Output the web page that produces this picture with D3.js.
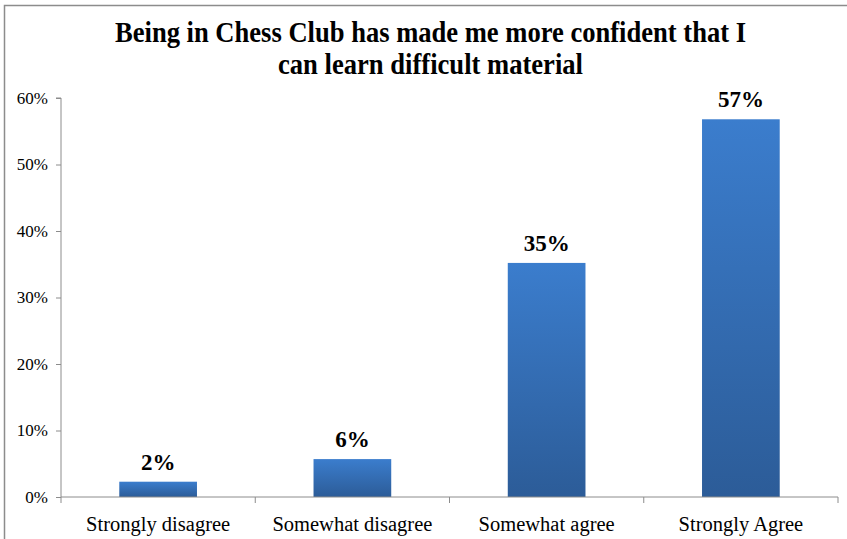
<!DOCTYPE html>
<html><head><meta charset="utf-8">
<script src="https://cdn.jsdelivr.net/npm/d3@7"></script>
<style>body{margin:0;background:#fff}svg{display:block}</style>
</head><body>
<script>
const categories = ["Strongly disagree","Somewhat disagree","Somewhat agree","Strongly Agree"];
const values = [2.3, 5.7, 35.2, 56.8];
const valueLabels = ["2%","6%","35%","57%"];
const yTicks = [0,10,20,30,40,50,60];
const titleLines = ["Being in Chess Club has made me more confident that I","can learn difficult material"];
const titleWidths = [631, 305];

const W=847,H=539;
const svg=d3.select("body").append("svg").attr("width",W).attr("height",H);
const font="'Liberation Serif','Times New Roman',serif";

// outer border (top and left visible)
svg.append("rect").attr("x",4.5).attr("y",5.5).attr("width",W+10).attr("height",H+10)
  .attr("fill","none").attr("stroke","#8c8c8c").attr("stroke-width",1.5);

const x0=61,x1=838,y0=497,y1=98;
const x=d3.scaleBand().domain(categories).range([x0,x1]).paddingInner(0.6).paddingOuter(0.3);
const y=d3.scaleLinear().domain([0,60]).range([y0,y1]);

const defs=svg.append("defs");
const g=defs.append("linearGradient").attr("id","bg").attr("x1",0).attr("y1",0).attr("x2",0).attr("y2",1);
g.append("stop").attr("offset","0%").attr("stop-color","#3b7dcd");
g.append("stop").attr("offset","100%").attr("stop-color","#2c5c98");

// bars
svg.selectAll("rect.bar").data(values).join("rect").attr("class","bar")
  .attr("x",(d,i)=>x(categories[i])).attr("width",x.bandwidth())
  .attr("y",d=>y(d)).attr("height",d=>y0-y(d)).attr("fill","url(#bg)");

// y axis
const ya=svg.append("g").attr("transform",`translate(${x0},0)`)
  .call(d3.axisLeft(y).tickValues(yTicks).tickSize(5).tickFormat(d=>d+"%"));
ya.attr("font-family",null);
ya.select(".domain").attr("stroke","#8c8c8c").attr("d",`M-5,${y1}H0V${y0}`);
ya.selectAll(".tick line").attr("stroke","#8c8c8c");
ya.selectAll(".tick text").style("font-family",font).style("font-size","17px").attr("fill","#000").attr("x",-13);

// x axis
const xl=d3.scaleLinear().domain([0,4]).range([x0,x1]);
const xa=svg.append("g").attr("transform",`translate(0,${y0})`)
  .call(d3.axisBottom(x).tickSize(0).tickPadding(19));
xa.attr("font-family",null);
xa.select(".domain").attr("stroke","#8c8c8c").attr("d",`M${x0},0H${x1}`);
xa.selectAll(".tick text").style("font-family",font).style("font-size","20.5px").attr("fill","#000");
svg.append("g").selectAll("line").data(d3.range(5)).join("line")
  .attr("x1",d=>xl(d)).attr("x2",d=>xl(d)).attr("y1",y0).attr("y2",y0+6)
  .attr("stroke","#8c8c8c");

// value labels
svg.selectAll("text.vl").data(values).join("text").attr("class","vl")
  .attr("x",(d,i)=>x(categories[i])+x.bandwidth()/2).attr("y",d=>y(d)-12)
  .attr("text-anchor","middle").style("font-family",font).attr("font-weight","bold")
  .style("font-size","23px").attr("fill","#000").text((d,i)=>valueLabels[i]);

// title
svg.selectAll("text.title").data(titleLines).join("text").attr("class","title")
  .attr("x",430.5).attr("y",(d,i)=>42+i*32).attr("text-anchor","middle")
  .style("font-family",font).attr("font-weight","bold").style("font-size","29px")
  .attr("textLength",(d,i)=>titleWidths[i]).attr("lengthAdjust","spacingAndGlyphs")
  .attr("fill","#000").text(d=>d);
</script>
</body></html>
